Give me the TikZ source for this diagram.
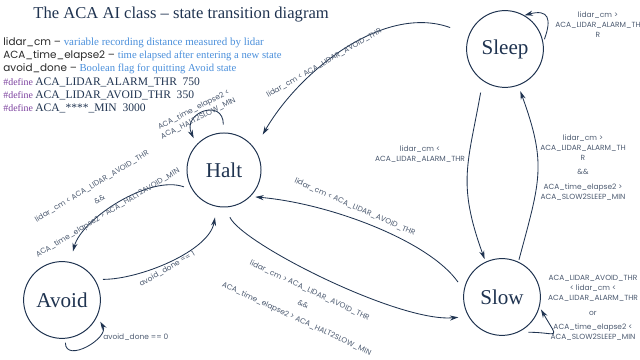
\documentclass[tikz,border=0pt]{standalone}
\usepackage{fontspec}
\setmainfont{Liberation Serif}
\setsansfont{Poppins}
\usepackage{tikz}
\usetikzlibrary{arrows.meta, automata}

\definecolor{navy}{HTML}{1F3350}
\definecolor{condgrey}{HTML}{4C5A70}
\definecolor{noteblue}{HTML}{4A8FDB}
\definecolor{defpurple}{HTML}{7A3E9D}
\definecolor{varblack}{HTML}{2A2A2A}

\begin{document}
\begin{tikzpicture}[
            x = 0.025cm, y = 0.025cm, % one unit = one pixel of the slide
            > = {Stealth[length=6pt, width=3.6pt]}, % arrow head style
            semithick,
            every text node part/.style={align=center},
            link/.style={->, navy},
            cond/.style={font=\sffamily\fontsize{5.3}{7}\selectfont, text=condgrey, inner sep=0pt},
            legend/.style={anchor=base west, inner sep=0pt}
        ]

        \tikzstyle{every state}=[
            draw = navy,
            line width = 0.7pt,
            fill = white,
            inner sep = 0pt,
            minimum size = 1.92cm,
            text = navy,
            font = \fontsize{15}{17}\selectfont
        ]

        \useasboundingbox (0,0) rectangle (640,360);

        % title and legend
        \node[anchor=west, inner sep=0pt, text=navy, font=\fontsize{11.8}{13}\selectfont] (title) at (33,345) {The ACA AI class – state transition diagram};
        \node[legend] (var1) at (3,314.5) {\sffamily\fontsize{7.4}{9}\selectfont\color{varblack}lidar\_cm – {\rmfamily\fontsize{7.8}{9}\selectfont\color{noteblue}variable recording distance measured by lidar}};
        \node[legend] (var2) at (3,301.2) {\sffamily\fontsize{7.4}{9}\selectfont\color{varblack}ACA\_time\_elapse2 – {\rmfamily\fontsize{7.6}{9}\selectfont\color{noteblue}time elapsed after entering a new state}};
        \node[legend] (var3) at (3,288) {\sffamily\fontsize{7.4}{9}\selectfont\color{varblack}avoid\_done – {\rmfamily\fontsize{7.6}{9}\selectfont\color{noteblue}Boolean flag for quitting Avoid state}};
        \node[legend] (def1) at (3,274.5) {\fontsize{7}{9}\selectfont{\color{defpurple}\#define} {\fontsize{8.2}{9}\selectfont\color{navy}ACA\_LIDAR\_ALARM\_THR\ \ 750}};
        \node[legend] (def2) at (3,261.2) {\fontsize{7}{9}\selectfont{\color{defpurple}\#define} {\fontsize{8.2}{9}\selectfont\color{navy}ACA\_LIDAR\_AVOID\_THR\ \ 350}};
        \node[legend] (def3) at (3,248) {\fontsize{7}{9}\selectfont{\color{defpurple}\#define} {\fontsize{8.2}{9}\selectfont\color{navy}ACA\_****\_MIN\ \ 3000}};

        % states
        \node[state, minimum size=1.85cm] (Halt) at (224,190) {Halt};
        \node[state] (Avoid) at (62,60) {Avoid};
        \node[state] (Sleep) at (505,311) {Sleep};
        \node[state] (Slow) at (502,63) {Slow};

        % transitions
        \path[link] (Halt.91) edge[out=90, in=115, out distance=0.875cm, in distance=0.875cm, shorten <=0.2cm, shorten >=0.17cm] (Halt.137);
        \path[link] (Sleep.158) edge[out=160, in=60, out distance=2.25cm, in distance=2.25cm, shorten <=0.5cm, shorten >=0.4cm] (Halt.35);
        \path[link] (Halt.212) edge[out=160, in=75, out distance=1.125cm, in distance=1.125cm, shorten <=0.22cm, shorten >=0.27cm] (Avoid.78);
        \path[link] (Avoid.32) edge[out=0, in=260, out distance=1.125cm, in distance=1.125cm, shorten <=0.2cm, shorten >=0.27cm] (Halt.259);
        \path[link] (Avoid.275) edge[out=270, in=300, out distance=0.625cm, in distance=0.625cm, shorten <=0.1cm, shorten >=0.15cm] (Avoid.335);
        \path[link] (Halt.272) edge[out=295, in=185, out distance=1cm, in distance=1.75cm, shorten <=0.27cm, shorten >=0.25cm] (Slow.210);
        \path[link] (Slow.170) edge[out=125, in=-5, out distance=1.5cm, in distance=2cm, shorten <=0.25cm, shorten >=0.12cm] (Halt.315);
        \path[link] (Sleep.235) edge[out=260, in=110, out distance=2.1cm, in distance=2.1cm, shorten <=0.3cm, shorten >=0.07cm] (Slow.115);
        \path[link] (Slow.65) edge[out=75, in=290, out distance=2.1cm, in distance=2.1cm, shorten <=0.05cm, shorten >=0.15cm] (Sleep.290);
        \path[link] (Sleep.10) edge[out=70, in=15, out distance=0.625cm, in distance=0.625cm, shorten <=0.08cm] (Sleep.60);
        \path[link] (Slow.295) edge[out=0, in=300, out distance=1cm, in distance=1cm, shorten <=0.25cm, shorten >=0.07cm] (Slow.345);

        % conditions
        \node[cond, rotate=27] (haltStay) at (196,246) {ACA\_time\_elapse2 <\\ACA\_HALT2SLOW\_MIN};
        \node[cond, rotate=30] (sleepHalt) at (324,297) {lidar\_cm < ACA\_LIDAR\_AVOID\_THR};
        \node[cond, rotate=31] (haltAvoid) at (100,160) {lidar\_cm < ACA\_LIDAR\_AVOID\_THR\\[4pt]\&\&\\[4pt]ACA\_time\_elapse2 > ACA\_HALT2AVOID\_MIN};
        \node[cond, rotate=30] (avoidHalt) at (167,91) {avoid\_done == 1};
        \node[cond, anchor=west] (avoidStay) at (103,23) {avoid\_done == 0};
        \node[cond, rotate=-25] (haltSlow) at (303,55) {lidar\_cm > ACA\_LIDAR\_AVOID\_THR\\[4pt]\&\&\\[4pt]ACA\_time\_elapse2 > ACA\_HALT2SLOW\_MIN};
        \node[cond, rotate=-24] (slowHalt) at (355,153) {lidar\_cm < ACA\_LIDAR\_AVOID\_THR};
        \node[cond] (sleepSlow) at (420,205.5) {lidar\_cm <\\ACA\_LIDAR\_ALARM\_THR};
        \node[cond] (slowSleep) at (583,192.5) {lidar\_cm >\\ACA\_LIDAR\_ALARM\_TH\\R\\[3.5pt]\&\&\\[3.5pt]ACA\_time\_elapse2 >\\ACA\_SLOW2SLEEP\_MIN};
        \node[cond] (sleepStay) at (598,335) {lidar\_cm >\\ACA\_LIDAR\_ALARM\_TH\\R};
        \node[cond] (slowStay) at (593,52) {ACA\_LIDAR\_AVOID\_THR\\< lidar\_cm <\\ACA\_LIDAR\_ALARM\_THR\\[3.5pt]or\\[3.5pt]ACA\_time\_elapse2 <\\ACA\_SLOW2SLEEP\_MIN};

    \end{tikzpicture}
\end{document}
